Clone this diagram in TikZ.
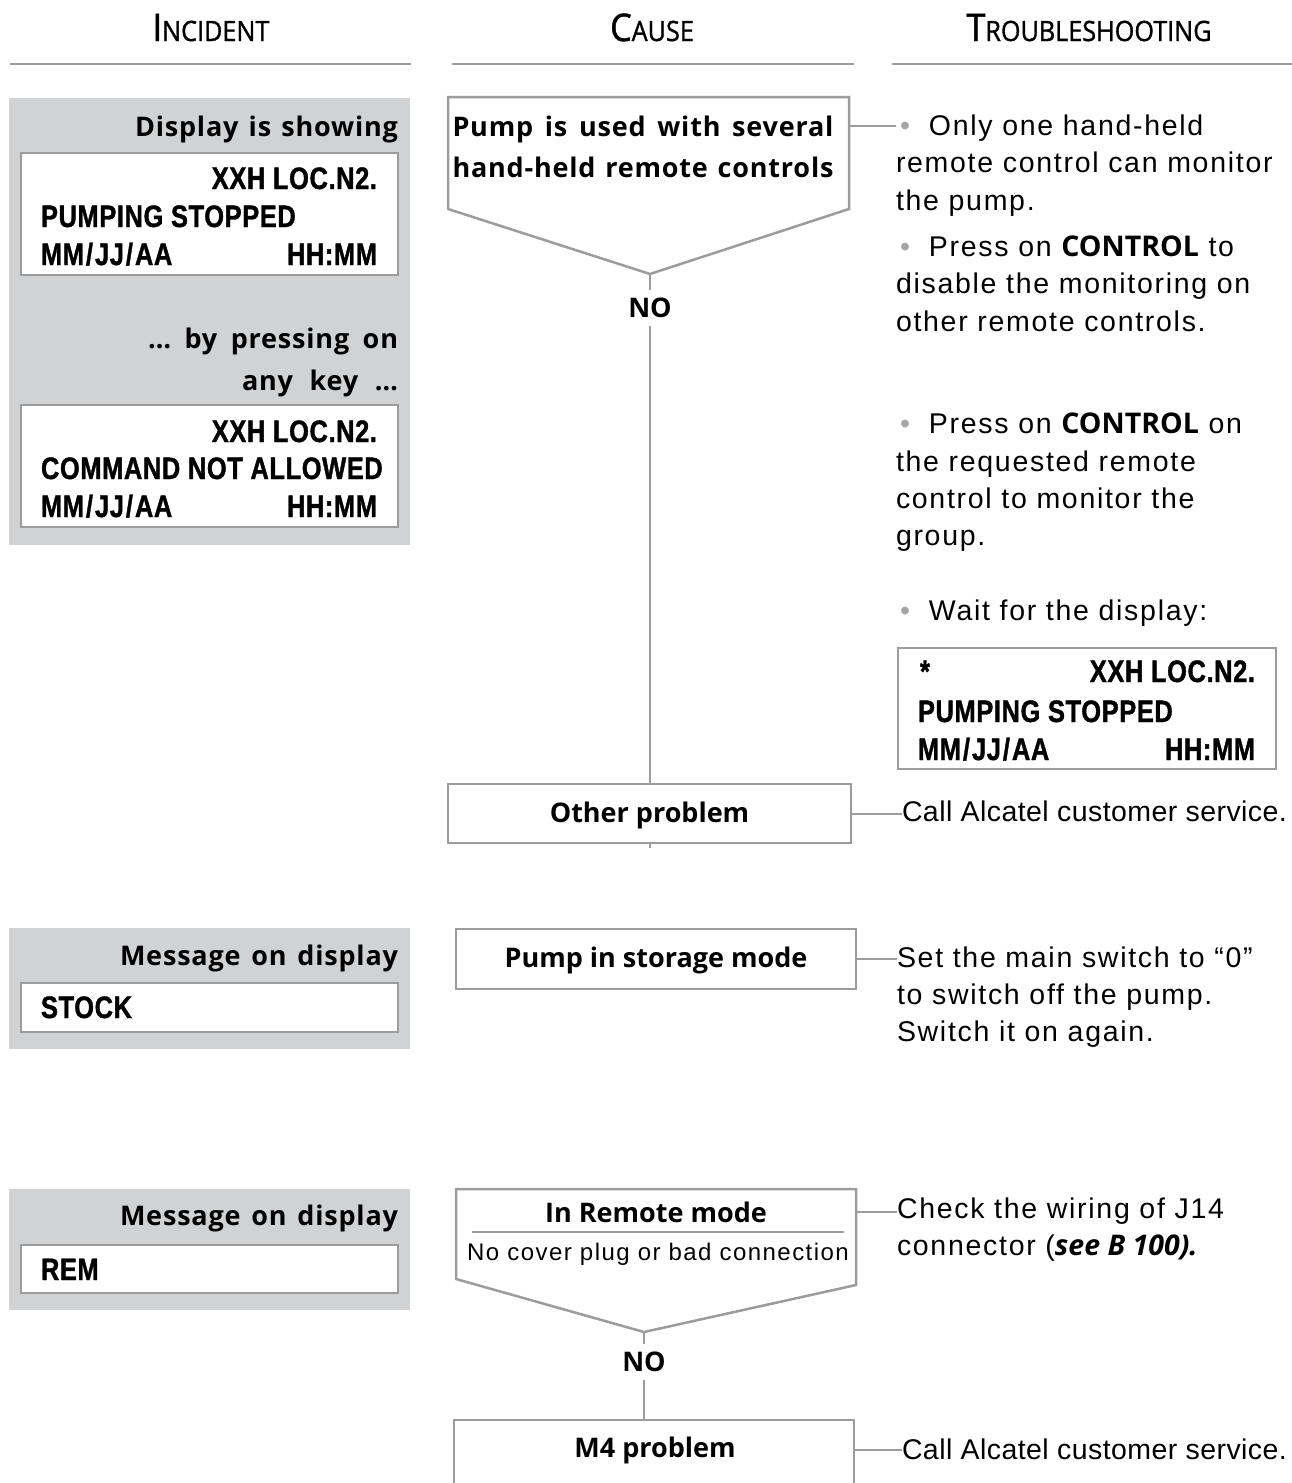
\documentclass[tikz,border=0pt]{standalone}
\usepackage{fontspec}
\setmainfont{Liberation Sans}
\newfontfamily\txtf{Liberation Sans}[LetterSpace=6]
\newfontfamily\txtn{Liberation Sans}[LetterSpace=1.5]
\newfontfamily\labf{Open Sans}
\newfontfamily\labs{Open Sans}[LetterSpace=3]
\newfontfamily\lcdf{Liberation Sans}[FakeStretch=0.82,LetterSpace=2,FakeBold=1.2]
\newfontfamily\hdrf{Open Sans}[FakeStretch=0.9,FakeBold=1.2]
\definecolor{lgray}{HTML}{9C9C9C}
\definecolor{panelc}{HTML}{D1D2D4}
\definecolor{bulc}{HTML}{A5A5A5}
\newcommand{\bul}{\hspace*{4pt}{\color{bulc}•}\hspace*{19pt}}
\newcommand{\hdrcaps}[2]{{\fontsize{38}{38}\selectfont #1}{\fontsize{28}{28}\selectfont #2}}
\newcommand{\slsh}{\kern2pt/\kern2pt}
\begin{document}
\begin{tikzpicture}[x=1pt,y=-1pt,
  every node/.style={inner sep=0pt,outer sep=0pt},
  hdr/.style={font=\hdrf, anchor=base},
  rule/.style={draw=lgray,line width=2.5pt},
  panel/.style={fill=panelc,draw=none},
  lcd/.style={draw=lgray,line width=2.5pt,fill=white},
  cbox/.style={draw=lgray,line width=2.5pt,fill=white},
  lab/.style={font=\labf\bfseries\fontsize{27}{32}\selectfont},
  labsp/.style={font=\labs\bfseries\fontsize{27}{32}\selectfont},
  lcdt/.style={font=\lcdf\bfseries\fontsize{31}{31}\selectfont},
  txt/.style={font=\txtf\fontsize{28.5}{37.5}\selectfont,anchor=base west},
  txtc/.style={font=\txtn\fontsize{28.5}{37.5}\selectfont,anchor=base west},
  small/.style={font=\txtf\fontsize{24}{28}\selectfont},
  conn/.style={draw=lgray,line width=2pt}]
\useasboundingbox (0,0) rectangle (1292,1483);
\clip (0,0) rectangle (1292,1483);

% headers
\node[hdr] (h1) at (211,41) {\hdrcaps{I}{NCIDENT}};
\node[hdr] (h2) at (652,41) {\hdrcaps{C}{AUSE}};
\node[hdr] (h3) at (1089,41) {\hdrcaps{T}{ROUBLESHOOTING}};
\coordinate (r1a) at (10,64); \coordinate (r1b) at (411,64);
\coordinate (r2a) at (452,64); \coordinate (r2b) at (854,64);
\coordinate (r3a) at (892,64); \coordinate (r3b) at (1292,64);
\draw[rule] (r1a) -- (r1b);
\draw[rule] (r2a) -- (r2b);
\draw[rule] (r3a) -- (r3b);

% ---------- section 1 ----------
\node[panel,anchor=north west,minimum width=401pt,minimum height=447pt] (p1) at (9,98) {};
\node[labsp,anchor=base east] (l1) at (398,136) {\makebox[263pt][s]{Display is showing}};
\node[lcd,anchor=north west,minimum width=377pt,minimum height=122pt] (d1) at (21,153) {};
\node[lcdt,anchor=base east] (d1a) at (377,189) {XXH LOC.N2.};
\node[lcdt,anchor=base west] (d1b) at (41,227) {PUMPING STOPPED};
\node[lcdt,anchor=base west] (d1c) at (41,265) {MM\slsh JJ\slsh AA};
\node[lcdt,anchor=base east] (d1d) at (377,265) {HH:MM};
\node[labsp,anchor=base east] (l2) at (398,348) {\makebox[250pt][s]{… by pressing on}};
\node[labsp,anchor=base east] (l3) at (398,390) {\makebox[156pt][s]{any key …}};
\node[lcd,anchor=north west,minimum width=377pt,minimum height=122pt] (d2) at (21,405) {};
\node[lcdt,anchor=base east] (d2a) at (377,442) {XXH LOC.N2.};
\node[lcdt,anchor=base west] (d2b) at (41,479) {COMMAND NOT ALLOWED};
\node[lcdt,anchor=base west] (d2c) at (41,517) {MM\slsh JJ\slsh AA};
\node[lcdt,anchor=base east] (d2d) at (377,517) {HH:MM};

% cause 1 (pentagon)
\coordinate (c1tl) at (448,97); \coordinate (c1tr) at (849,97);
\coordinate (c1br) at (849,209); \coordinate (c1apex) at (650,274);
\coordinate (c1bl) at (448,209); \coordinate (c1r) at (849,126);
\draw[cbox] (c1tl) -- (c1tr) -- (c1br) -- (c1apex) -- (c1bl) -- cycle;
\node[labsp,anchor=base] (c1a) at (643,136) {\makebox[381pt][s]{Pump is used with several}};
\node[labsp,anchor=base] (c1b) at (643,177) {\makebox[381pt][s]{hand-held remote controls}};
\node[lab,inner sep=8pt] (no1) at (650,308) {NO};
\node[cbox,minimum width=403pt,minimum height=59pt] (ob) at (649.5,813.5) {};
\node[lab,anchor=base] (obt) at (649.5,822) {Other problem};
\draw[conn] (c1apex) -- (no1.north);
\draw[conn] (no1.south) -- (no1.south |- ob.north);
\draw[conn] (ob.south) -- ++(0,5);

% troubleshooting 1
\node[txt] (t1a) at (896,135) {\bul Only one hand-held};
\node[txt] (t1b) at (896,172) {remote control can monitor};
\node[txt] (t1c) at (896,210) {the pump.};
\node[txt] (t2a) at (896,256) {\bul Press on {\labf\bfseries CONTROL} to};
\node[txt] (t2b) at (896,293) {disable the monitoring on};
\node[txt] (t2c) at (896,331) {other remote controls.};
\node[txt] (t3a) at (896,433) {\bul Press on {\labf\bfseries CONTROL} on};
\node[txt] (t3b) at (896,471) {the requested remote};
\node[txt] (t3c) at (896,508) {control to monitor the};
\node[txt] (t3d) at (896,545) {group.};
\node[txt] (t4a) at (896,620) {\bul Wait for the display:};
\draw[conn] (c1r) -- (c1r -| t1a.west);

\node[lcd,anchor=north west,minimum width=378pt,minimum height=121pt] (d3) at (898,648) {};
\node[lcdt,anchor=base west] (d3s) at (920,682) {*};
\node[lcdt,anchor=base east] (d3a) at (1255,682) {XXH LOC.N2.};
\node[lcdt,anchor=base west] (d3b) at (918,722) {PUMPING STOPPED};
\node[lcdt,anchor=base west] (d3c) at (918,760) {MM\slsh JJ\slsh AA};
\node[lcdt,anchor=base east] (d3d) at (1255,760) {HH:MM};

\node[txtc] (ca1) at (902,821) {Call Alcatel customer service.};
\draw[conn] (ob.east) -- (ob.east -| ca1.west);

% ---------- section 2 ----------
\node[panel,anchor=north west,minimum width=401pt,minimum height=121pt] (p2) at (9,928) {};
\node[labsp,anchor=base east] (m1) at (398,965) {\makebox[278pt][s]{Message on display}};
\node[lcd,anchor=north west,minimum width=377pt,minimum height=49pt] (d4) at (21,983) {};
\node[lcdt,anchor=base west] (d4a) at (41,1018) {STOCK};
\node[cbox,minimum width=400pt,minimum height=60pt] (sb) at (656,959) {};
\node[lab,anchor=base] (sbt) at (656,967) {Pump in storage mode};
\node[txt] (s1) at (897,967) {Set the main switch to “0”};
\node[txt] (s2) at (897,1004) {to switch off the pump.};
\node[txt] (s3) at (897,1041) {Switch it on again.};
\draw[conn] (sb.east) -- (sb.east -| s1.west);

% ---------- section 3 ----------
\node[panel,anchor=north west,minimum width=401pt,minimum height=121pt] (p3) at (9,1189) {};
\node[labsp,anchor=base east] (m2) at (398,1225) {\makebox[278pt][s]{Message on display}};
\node[lcd,anchor=north west,minimum width=377pt,minimum height=48pt] (d5) at (21,1245) {};
\node[lcdt,anchor=base west] (d5a) at (41,1280) {REM};

\coordinate (c2tl) at (456,1189); \coordinate (c2tr) at (856,1189);
\coordinate (c2br) at (856,1285); \coordinate (c2apex) at (644,1332);
\coordinate (c2bl) at (456,1279); \coordinate (c2r) at (856,1212);
\draw[cbox] (c2tl) -- (c2tr) -- (c2br) -- (c2apex) -- (c2bl) -- cycle;
\coordinate (sepl) at (472,1232); \coordinate (sepr) at (844,1232);
\draw[draw=lgray,line width=1.2pt] (sepl) -- (sepr);
\node[lab,anchor=base] (c2a) at (656,1222) {In Remote mode};
\node[small,anchor=base] (c2b) at (658,1260) {No cover plug or bad connection};
\node[txt] (ch1) at (897,1218) {Check the wiring of J14};
\node[txt] (ch2) at (897,1255) {connector ({\labf\bfseries\itshape see B 100).}};
\draw[conn] (c2r) -- (c2r -| ch1.west);

\node[lab,inner sep=8pt] (no2) at (644,1362) {NO};
\node[cbox,anchor=north,minimum width=400pt,minimum height=90pt] (m4) at (654,1420) {};
\node[lab,anchor=base] (m4t) at (655,1457) {M4 problem};
\draw[conn] (c2apex) -- (no2.north);
\draw[conn] (no2.south) -- (no2.south |- m4.north);
\coordinate (m4r) at (854,1450);
\node[txtc] (ca2) at (902,1459) {Call Alcatel customer service.};
\draw[conn] (m4r) -- (m4r -| ca2.west);
\end{tikzpicture}
\end{document}
